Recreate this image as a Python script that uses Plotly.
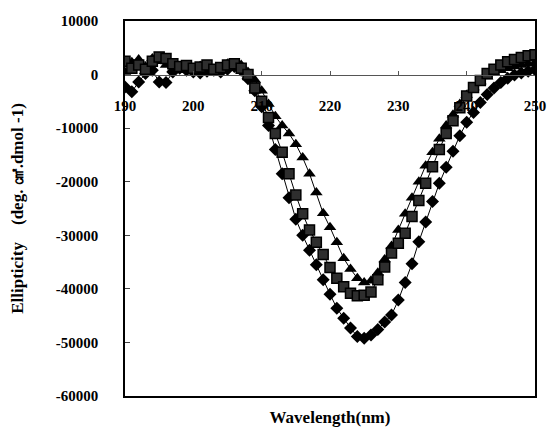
import plotly.graph_objects as go

wavelength = list(range(190, 251))

diamonds = [-2300, -3200, -1400, 200, 800, -1400, -1500, 500, 1200, 800,
            500, 300, 600, 800, 500, 1000, 1500, 800, -800, -3000,
            -6000, -9500, -14000, -18500, -23000, -27000, -30000, -32800, -35500, -38300,
            -41000, -43600, -45500, -47300, -48900, -49200, -48600, -47600, -46200, -44900,
            -42100, -38800, -35300, -31200, -27500, -23700, -20300, -17300, -14300, -11400,
            -8900, -7100, -5200, -3700, -2500, -1500, -700, -100, 300, 600,
            900]

squares = [2500, 1200, 1800, 1000, 2500, 3300, 3000, 2000, 1500, 1700,
           1200, 1400, 1800, 1000, 1300, 1800, 2000, 1200, 0, -2500,
           -5000, -8000, -11000, -14500, -18500, -22500, -26000, -29000, -31300, -33600,
           -36000, -38000, -39600, -40800, -41300, -41200, -40600, -38300, -35900, -33300,
           -31500, -29600, -26500, -23500, -20300, -17200, -14000, -11000, -8600, -6200,
           -4000, -2400, -1100, 200, 1000, 1800, 2400, 2800, 3200, 3500,
           3700]

triangles = [500, 2300, 2800, 1500, 3000, 2500, 1800, 1000, 1500, 800,
             1000, 1600, 900, 700, 1200, 2000, 1400, 1800, 500, -1000,
             -3000, -5500, -7800, -9500, -11000, -13000, -15500, -18500, -22000, -25900,
             -28500, -31300, -34300, -36300, -38000, -38800, -38500, -37000, -34500, -32000,
             -29000, -26000, -23000, -20000, -17000, -14500, -12000, -9500, -7500, -5500,
             -3800, -2400, -1300, -400, 300, 800, 1200, 1500, 1800, 2000,
             2200]

x_ticks = [190, 200, 210, 220, 230, 240, 250]
y_ticks = [10000, 0, -10000, -20000, -30000, -40000, -50000, -60000]

FONT = "Liberation Serif, Times New Roman, serif"

fig = go.Figure()

fig.add_trace(go.Scatter(
    x=wavelength, y=diamonds, mode="lines+markers",
    line=dict(color="black", width=1),
    marker=dict(symbol="diamond", size=10, color="black"),
    showlegend=False))
fig.add_trace(go.Scatter(
    x=wavelength, y=triangles, mode="lines+markers",
    line=dict(color="black", width=1),
    marker=dict(symbol="triangle-up", size=11, color="black"),
    showlegend=False))
fig.add_trace(go.Scatter(
    x=wavelength, y=squares, mode="lines+markers",
    line=dict(color="black", width=1),
    marker=dict(symbol="square", size=10, color="#2e2e2e",
                line=dict(color="black", width=1.5)),
    showlegend=False))

# axis at y = 0 carrying the wavelength tick labels
fig.add_trace(go.Scatter(x=[190, 250], y=[None, None], xaxis="x2",
                         showlegend=False, hoverinfo="skip"))

y_min, y_max = -60000, 10000
zero_pos = (0 - y_min) / (y_max - y_min)

fig.update_layout(
    width=551, height=428,
    margin=dict(l=125, r=16, t=21, b=32),
    paper_bgcolor="white", plot_bgcolor="white",
    font=dict(family=FONT, size=15, color="black", weight="bold"),
    xaxis=dict(range=[190, 250], showline=True, linecolor="black", linewidth=1.5,
               mirror=True, showticklabels=False, ticks="", showgrid=False,
               zeroline=False, automargin=False,
               title=dict(text="Wavelength(nm)", standoff=14,
                          font=dict(family=FONT, size=17, weight="bold"))),
    xaxis2=dict(range=[190, 250], overlaying="x", anchor="free", position=zero_pos,
                side="bottom", showline=True, linecolor="#555", linewidth=1,
                tickvals=x_ticks, ticktext=[str(v) for v in x_ticks],
                ticks="inside", ticklen=4, tickcolor="#555", automargin=False,
                ticklabelstandoff=17, showgrid=False, zeroline=False,
                tickfont=dict(family=FONT, size=15, weight="bold")),
    yaxis=dict(range=[y_min, y_max], showline=True, linecolor="black", linewidth=1.5,
               mirror=True, tickvals=y_ticks, ticktext=[str(v) for v in y_ticks],
               ticks="inside", ticklen=5, showgrid=False, zeroline=False,
               ticklabelstandoff=22, automargin=False,
               tickfont=dict(family=FONT, size=15, weight="bold"),
               title=dict(text="Ellipticity    (deg. ㎠.dmol -1)", standoff=28,
                          font=dict(family=FONT, size=17, weight="bold"))),
)

fig.write_html("out.html")
